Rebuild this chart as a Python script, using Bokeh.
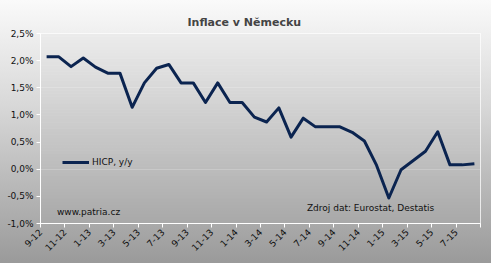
import math
from bokeh.plotting import figure
from bokeh.models import (ColumnDataSource, FixedTicker, CustomJSTickFormatter,
                          BoxAnnotation, Label, Legend, LegendItem, Range1d)
from bokeh.embed import file_html
from bokeh.resources import INLINE

# ---- data ----
months = ["9-12", "10-12", "11-12", "12-12",
          "1-13", "2-13", "3-13", "4-13", "5-13", "6-13", "7-13", "8-13", "9-13", "10-13", "11-13", "12-13",
          "1-14", "2-14", "3-14", "4-14", "5-14", "6-14", "7-14", "8-14", "9-14", "10-14", "11-14", "12-14",
          "1-15", "2-15", "3-15", "4-15", "5-15", "6-15", "7-15", "8-15"]
hicp = [2.07, 2.07, 1.89, 2.05,
        1.88, 1.77, 1.77, 1.14, 1.59, 1.86, 1.93, 1.59, 1.59, 1.23, 1.59, 1.23,
        1.23, 0.96, 0.87, 1.13, 0.59, 0.94, 0.78, 0.78, 0.78, 0.68, 0.52, 0.07,
        -0.53, -0.01, 0.16, 0.33, 0.69, 0.08, 0.08, 0.10]
y_ticks = [-1.0, -0.5, 0.0, 0.5, 1.0, 1.5, 2.0, 2.5]
series_name = "HICP, y/y"
title_text = "Inflace v Německu"
source_text = "Zdroj dat: Eurostat, Destatis"
site_text = "www.patria.cz"

FONT = "DejaVu Sans"
n = len(months)
x_pos = [i + 0.5 for i in range(n)]
src = ColumnDataSource(dict(x=x_pos, y=hicp))

p = figure(width=491, height=263, output_backend="svg", toolbar_location=None,
           x_range=Range1d(0, n), y_range=Range1d(y_ticks[0], y_ticks[-1]),
           min_border_left=40, min_border_right=11, min_border_top=33, min_border_bottom=40)

# outer gradient background via CSS, transparent canvas fills
p.border_fill_color = None
p.background_fill_color = None
p.styles = {"background": "linear-gradient(to bottom, #fafafa 0%, #d8d8d8 40%, #9a9a9a 100%)"}

# inner (plot area) gradient with thin strips
steps = 60
lo, hi = y_ticks[0], y_ticks[-1]
top_c, bot_c = (0xec, 0xec, 0xec), (0xa8, 0xa8, 0xa8)
for k in range(steps):
    b = lo + (hi - lo) * k / steps
    t = lo + (hi - lo) * (k + 1) / steps
    f = (k + 0.5) / steps  # 0 bottom -> 1 top
    c = tuple(int(round(bot_c[j] + (top_c[j] - bot_c[j]) * f)) for j in range(3))
    p.add_layout(BoxAnnotation(bottom=b, top=t, fill_color="#%02x%02x%02x" % c,
                               fill_alpha=1.0, line_color=None, level="underlay"))

p.outline_line_color = "white"
p.outline_line_width = 1
p.xgrid.grid_line_color = None
p.ygrid.grid_line_color = "white"
p.ygrid.grid_line_width = 1
p.ygrid.ticker = FixedTicker(ticks=y_ticks)

r = p.line("x", "y", source=src, line_color="#0b2450", line_width=3, line_join="round")

# axes
p.yaxis.ticker = FixedTicker(ticks=y_ticks)
p.yaxis.formatter = CustomJSTickFormatter(code="return tick.toFixed(1).replace('.', ',') + '%';")
p.xaxis.ticker = FixedTicker(ticks=list(range(0, n + 1, 2)))
p.xaxis.formatter = CustomJSTickFormatter(args=dict(labels=months),
                                          code="const i = Math.round(tick); return (i < labels.length) ? labels[i] : '';")
p.xaxis.major_label_orientation = math.pi / 4
for ax in (p.xaxis, p.yaxis):
    ax.axis_line_color = "white"
    ax.major_tick_line_color = "white"
    ax.major_tick_out = 4
    ax.major_tick_in = 0
    ax.minor_tick_line_color = None
    ax.major_label_text_font = FONT
    ax.major_label_text_font_size = "9px"
    ax.major_label_text_color = "#111111"
    ax.major_label_standoff = 3

# title
p.title.text = title_text
p.title.text_font = FONT
p.title.text_font_size = "11px"
p.title.text_font_style = "bold"
p.title.align = "left"
p.title.offset = 147

# legend
legend = Legend(items=[LegendItem(label=series_name, renderers=[r])],
                location=(22, 54), background_fill_alpha=0, border_line_color=None,
                padding=0, margin=0, glyph_width=27, glyph_height=14, label_standoff=3,
                label_text_font=FONT, label_text_font_size="9px", label_text_color="#111111")
p.add_layout(legend)

# notes
p.add_layout(Label(x=1.35, y=-0.78, text=site_text, text_font=FONT, text_font_size="9px",
                   text_color="#111111", text_baseline="middle"))
p.add_layout(Label(x=21.8, y=-0.71, text=source_text, text_font=FONT, text_font_size="9px",
                   text_color="#111111", text_baseline="middle"))

open("out.html", "w").write(file_html(p, INLINE))
